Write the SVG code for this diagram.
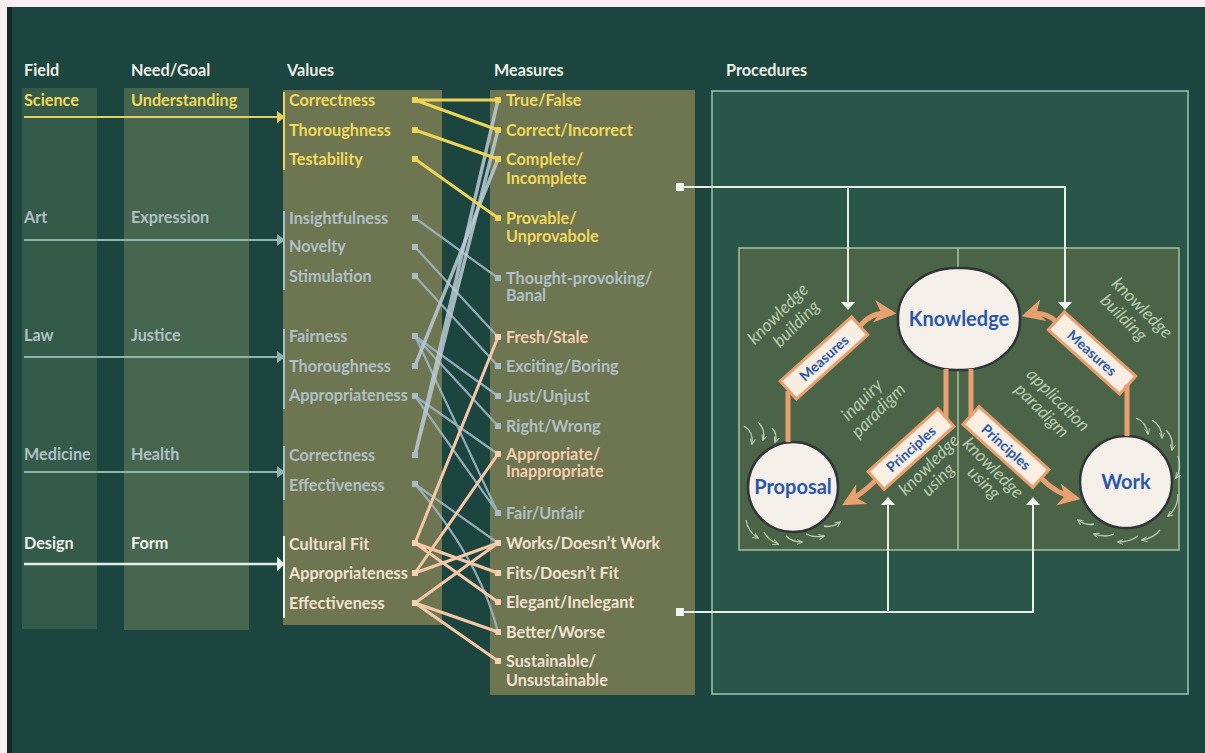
<svg xmlns="http://www.w3.org/2000/svg" width="1205" height="753" viewBox="0 0 1205 753">
<defs>
<style>
text{font-family:Lato,"Open Sans","Liberation Sans",sans-serif;font-weight:bold;font-size:16.2px}
.hd{fill:#eef0e6}
.y{fill:#f2da5c}
.g{fill:#b0c0c6}
.p{fill:#f6cdae}
.c{fill:#f3e2d0}
.w{fill:#eef0ea}
.it{font-style:italic;font-weight:normal;font-size:17.5px;fill:#b8ccb0;text-anchor:middle}
.bl{fill:#2a58a8;font-size:20px;text-anchor:middle}
.bx{fill:#f8eee2;stroke:#e8a070;stroke-width:3}
.bt{fill:#2a58a8;font-size:14px;text-anchor:middle}
.ly{stroke:#eed456;stroke-width:3;fill:none;stroke-linecap:round}
.lg{stroke:#9db6c2;stroke-width:2.2;fill:none;opacity:.9}
.lm{stroke:#bccbd6;stroke-width:3.5;fill:none;opacity:.85}
.lp{stroke:#f4c8a6;stroke-width:3;fill:none}
.or{stroke:#e8a070;stroke-width:5;fill:none}
.wl{stroke:#e6f0e6;stroke-width:2;fill:none}
.sw{stroke:#b8d0b0;stroke-width:1.3;fill:none}
.circ{fill:#f4efe8;stroke:#2e3438;stroke-width:2.5}
</style>
<marker id="oa" viewBox="0 0 10 10" refX="8" refY="5" markerWidth="4.5" markerHeight="4.5" orient="auto"><path d="M0,0 L10,5 L0,10 L3,5 Z" fill="#e8a070"/></marker>
<marker id="sm" viewBox="0 0 10 10" refX="8" refY="5" markerWidth="5" markerHeight="5" orient="auto"><path d="M0,1 L9,5 L0,9" fill="none" stroke="#b8d0b0" stroke-width="1.5"/></marker>
</defs>

<rect x="0" y="0" width="1205" height="753" fill="#f6eef2"/>
<rect x="7" y="7" width="1198" height="746" fill="#1c4540"/>
<rect x="7" y="7" width="5" height="746" fill="#0f2a26"/>

<!-- columns -->
<rect x="22" y="88" width="75" height="541" fill="#345a49"/>
<rect x="124" y="88" width="125" height="542" fill="#46664f"/>
<rect x="283" y="90" width="159" height="535" fill="#6d7551"/>
<rect x="490" y="90" width="205" height="605" fill="#6d7551"/>
<rect x="712" y="91" width="476" height="603" fill="#2a5649" stroke="#9cc4b8" stroke-width="1.5"/>
<rect x="739" y="248" width="440" height="302" fill="#4b6346" stroke="#a6c0a0" stroke-width="1.5"/>
<line x1="958" y1="248" x2="958" y2="550" stroke="#a6c0a0" stroke-width="1.5"/>

<!-- headers -->
<g id="headers">
<text class="hd" x="24" y="76">Field</text>
<text class="hd" x="131" y="76">Need/Goal</text>
<text class="hd" x="287" y="76">Values</text>
<text class="hd" x="494" y="76">Measures</text>
<text class="hd" x="726" y="76">Procedures</text>
</g>

<!-- fields -->
<g id="field-science"><text class="y" x="24" y="106">Science</text></g>
<g id="field-art"><text class="g" x="24" y="223">Art</text></g>
<g id="field-law"><text class="g" x="24" y="341">Law</text></g>
<g id="field-medicine"><text class="g" x="24" y="460">Medicine</text></g>
<g id="field-design"><text class="w" x="24" y="549">Design</text></g>

<g id="goal-understanding"><text class="y" x="131" y="106">Understanding</text></g>
<g id="goal-expression"><text class="g" x="131" y="223">Expression</text></g>
<g id="goal-justice"><text class="g" x="131" y="341">Justice</text></g>
<g id="goal-health"><text class="g" x="131" y="460">Health</text></g>
<g id="goal-form"><text class="w" x="131" y="549">Form</text></g>

<!-- values -->
<g id="values-science">
<line x1="284" y1="92" x2="284" y2="170" stroke="#eed456" stroke-width="2"/>
<text class="y" x="289" y="106">Correctness</text>
<text class="y" x="289" y="136">Thoroughness</text>
<text class="y" x="289" y="165">Testability</text>
</g>
<g id="values-art">
<line x1="284" y1="211" x2="284" y2="290" stroke="#a8c0c4" stroke-width="2"/>
<text class="g" x="289" y="224">Insightfulness</text>
<text class="g" x="289" y="252">Novelty</text>
<text class="g" x="289" y="282">Stimulation</text>
</g>
<g id="values-law">
<line x1="284" y1="329" x2="284" y2="409" stroke="#a8c0c4" stroke-width="2"/>
<text class="g" x="289" y="342">Fairness</text>
<text class="g" x="289" y="372">Thoroughness</text>
<text class="g" x="289" y="401">Appropriateness</text>
</g>
<g id="values-medicine">
<line x1="284" y1="446" x2="284" y2="500" stroke="#a8c0c4" stroke-width="2"/>
<text class="g" x="289" y="461">Correctness</text>
<text class="g" x="289" y="491">Effectiveness</text>
</g>
<g id="values-design">
<line x1="284" y1="536" x2="284" y2="618" stroke="#eef0ea" stroke-width="2"/>
<text class="c" x="289" y="550">Cultural Fit</text>
<text class="c" x="289" y="579">Appropriateness</text>
<text class="c" x="289" y="609">Effectiveness</text>
</g>

<!-- measures -->
<g id="measures">
<text class="y" x="506" y="106">True/False</text>
<text class="y" x="506" y="136">Correct/Incorrect</text>
<text class="y" x="506" y="165">Complete/</text>
<text class="y" x="506" y="184">Incomplete</text>
<text class="y" x="506" y="224">Provable/</text>
<text class="y" x="506" y="242">Unprovabole</text>
<text class="g" x="506" y="284">Thought-provoking/</text>
<text class="g" x="506" y="301">Banal</text>
<text class="p" x="506" y="343">Fresh/Stale</text>
<text class="g" x="506" y="372">Exciting/Boring</text>
<text class="g" x="506" y="402">Just/Unjust</text>
<text class="g" x="506" y="432">Right/Wrong</text>
<text class="p" x="506" y="460">Appropriate/</text>
<text class="p" x="506" y="477">Inappropriate</text>
<text class="g" x="506" y="519">Fair/Unfair</text>
<text class="c" x="506" y="549">Works/Doesn’t Work</text>
<text class="c" x="506" y="579">Fits/Doesn’t Fit</text>
<text class="c" x="506" y="608">Elegant/Inelegant</text>
<text class="c" x="506" y="638">Better/Worse</text>
<text class="c" x="506" y="667">Sustainable/</text>
<text class="c" x="506" y="686">Unsustainable</text>
</g>

<!-- procedure nodes -->
<g id="node-knowledge">
<rect class="circ" x="898" y="268" width="122" height="102" rx="58" ry="49"/>
<text class="bl" x="959" y="326">Knowledge</text>
</g>
<g id="node-proposal">
<circle class="circ" cx="793" cy="487" r="45"/>
<text class="bl" x="793" y="494">Proposal</text>
</g>
<g id="node-work">
<circle class="circ" cx="1126" cy="482" r="46"/>
<text class="bl" x="1126" y="489">Work</text>
</g>
<g id="box-measures-left" transform="translate(824,358) rotate(-42)">
<rect class="bx" x="-48" y="-12" width="96" height="24"/>
<text class="bt" x="0" y="5">Measures</text>
</g>
<g id="box-principles-left" transform="translate(911,449) rotate(-42)">
<rect class="bx" x="-47" y="-12" width="94" height="24"/>
<text class="bt" x="0" y="5">Principles</text>
</g>
<g id="box-principles-right" transform="translate(1006,447) rotate(42)">
<rect class="bx" x="-47" y="-12" width="94" height="24"/>
<text class="bt" x="0" y="5">Principles</text>
</g>
<g id="box-measures-right" transform="translate(1092,353) rotate(42)">
<rect class="bx" x="-48" y="-12" width="96" height="24"/>
<text class="bt" x="0" y="5">Measures</text>
</g>

<!-- italic labels -->
<g id="labels">
<text class="it" transform="translate(782,318) rotate(-45)"><tspan x="0" y="0">knowledge</tspan><tspan x="6" y="20">building</tspan></text>
<text class="it" transform="translate(866,404) rotate(-45)"><tspan x="0" y="0">inquiry</tspan><tspan x="4" y="19">paradigm</tspan></text>
<text class="it" transform="translate(933,469) rotate(-45)"><tspan x="0" y="0">knowledge</tspan><tspan x="-4" y="17">using</tspan></text>
<text class="it" transform="translate(1138,312) rotate(45)"><tspan x="0" y="0">knowledge</tspan><tspan x="-6" y="20">building</tspan></text>
<text class="it" transform="translate(1054,404) rotate(45)"><tspan x="0" y="0">application</tspan><tspan x="-4" y="19">paradigm</tspan></text>
<text class="it" transform="translate(989,472) rotate(45)"><tspan x="0" y="0">knowledge</tspan><tspan x="4" y="17">using</tspan></text>
</g>

<!-- connectors -->
<g id="connectors">
<!-- field arrows -->
<line x1="24" y1="117" x2="280" y2="117" stroke="#e8d060" stroke-width="2"/>
<polygon points="277,111 285,117 277,123" fill="#e8d060"/>
<line x1="24" y1="240" x2="280" y2="240" stroke="#8fb4ae" stroke-width="2"/>
<polygon points="277,234 285,240 277,246" fill="#8fb4ae"/>
<line x1="24" y1="357" x2="280" y2="357" stroke="#8fb4ae" stroke-width="2"/>
<polygon points="277,351 285,357 277,363" fill="#8fb4ae"/>
<line x1="24" y1="472" x2="280" y2="472" stroke="#8fb4ae" stroke-width="2"/>
<polygon points="277,466 285,472 277,478" fill="#8fb4ae"/>
<line x1="24" y1="564" x2="280" y2="564" stroke="#e4eee8" stroke-width="2.5"/>
<polygon points="277,557 285,564 277,571" fill="#e4eee8"/>

<!-- art / law / medicine -->
<path class="lg" d="M415,218 L498,278 M415,247 L498,337 M415,276 L498,366"/>
<path class="lg" d="M415,336 L498,396 M415,336 L498,426 M415,336 L498,513 M415,396 L498,454 M415,396 L498,513"/>
<path class="lm" d="M415,366 L498,159"/>
<path class="lm" d="M415,455 L498,100 M415,455 L498,130"/>
<path class="lg" d="M415,484 L498,543 M415,484 Q480,560 498,632"/>
<!-- science -->
<path class="ly" d="M415,100 L498,100 M415,100 L498,130 M415,130 L498,159 M415,159 L498,218"/>
<!-- design -->
<path class="lp" d="M415,543 L498,337 M415,543 L498,573 M415,543 L498,602 M415,573 L498,454 M415,573 L498,543 M415,603 L498,543 M415,603 L498,632 M415,603 L498,661"/>

<!-- dots -->
<g fill="#eed456">
<rect x="412" y="97" width="6" height="6"/><rect x="412" y="127" width="6" height="6"/><rect x="412" y="156" width="6" height="6"/>
<rect x="495" y="97" width="6" height="6"/><rect x="495" y="127" width="6" height="6"/><rect x="495" y="156" width="6" height="6"/><rect x="495" y="215" width="6" height="6"/>
</g>
<g fill="#a8bcc6">
<rect x="412" y="215" width="6" height="6"/><rect x="412" y="244" width="6" height="6"/><rect x="412" y="273" width="6" height="6"/>
<rect x="412" y="333" width="6" height="6"/><rect x="412" y="363" width="6" height="6"/><rect x="412" y="393" width="6" height="6"/>
<rect x="412" y="452" width="6" height="6"/><rect x="412" y="481" width="6" height="6"/>
<rect x="495" y="275" width="6" height="6"/><rect x="495" y="363" width="6" height="6"/><rect x="495" y="393" width="6" height="6"/><rect x="495" y="423" width="6" height="6"/><rect x="495" y="510" width="6" height="6"/>
</g>
<g fill="#f6d0b2">
<rect x="412" y="540" width="6" height="6"/><rect x="412" y="570" width="6" height="6"/><rect x="412" y="600" width="6" height="6"/>
<rect x="495" y="334" width="6" height="6"/><rect x="495" y="451" width="6" height="6"/><rect x="495" y="540" width="6" height="6"/><rect x="495" y="570" width="6" height="6"/><rect x="495" y="599" width="6" height="6"/><rect x="495" y="629" width="6" height="6"/><rect x="495" y="658" width="6" height="6"/>
</g>

<!-- measures to procedures -->
<rect x="676" y="183" width="8" height="8" fill="#eef4ee"/>
<path class="wl" d="M684,187 H1065 V302 M848,187 V302"/>
<polygon points="841,302 855,302 848,310" fill="#eef4ee"/>
<polygon points="1058,302 1072,302 1065,310" fill="#eef4ee"/>
<rect x="676" y="608" width="8" height="8" fill="#eef4ee"/>
<path class="wl" d="M684,612 H1033 V505 M888,612 V505"/>
<polygon points="881,505 895,505 888,497" fill="#eef4ee"/>
<polygon points="1026,505 1040,505 1033,497" fill="#eef4ee"/>

<!-- orange flows -->
<path class="or" d="M788,442 V391"/>
<path class="or" marker-end="url(#oa)" d="M860,326 Q872,311 892,313"/>
<path class="or" d="M946,369 V418"/>
<path class="or" marker-end="url(#oa)" d="M876,480 Q862,494 846,503"/>
<path class="or" d="M971,369 V416"/>
<path class="or" marker-end="url(#oa)" d="M1041,478 Q1056,494 1076,498"/>
<path class="or" d="M1127,436 V385"/>
<path class="or" marker-end="url(#oa)" d="M1057,322 Q1044,310 1026,315"/>

<!-- swirls -->
<g class="sw">
<path marker-end="url(#sm)" d="M744,426 q10,6 8,18"/>
<path marker-end="url(#sm)" d="M758,422 q8,8 5,18"/>
<path marker-end="url(#sm)" d="M772,428 q6,6 3,14"/>
<path marker-end="url(#sm)" d="M746,520 q2,12 12,18"/>
<path marker-end="url(#sm)" d="M764,532 q4,8 14,12"/>
<path marker-end="url(#sm)" d="M786,536 q6,6 16,6"/>
<path marker-end="url(#sm)" d="M806,534 q8,4 18,2"/>
<path marker-end="url(#sm)" d="M824,526 q8,2 16,-4"/>
<path marker-end="url(#sm)" d="M1136,418 q10,4 12,16"/>
<path marker-end="url(#sm)" d="M1152,420 q10,6 10,18"/>
<path marker-end="url(#sm)" d="M1166,430 q8,8 6,20"/>
<path marker-end="url(#sm)" d="M1178,456 q4,12 -2,22"/>
<path marker-end="url(#sm)" d="M1178,494 q0,14 -10,22"/>
<path marker-end="url(#sm)" d="M1160,530 q-6,8 -18,10"/>
<path marker-end="url(#sm)" d="M1138,536 q-8,6 -20,6"/>
<path marker-end="url(#sm)" d="M1114,534 q-8,4 -20,0"/>
<path marker-end="url(#sm)" d="M1094,524 q-8,2 -16,-4"/>
</g>
</g>
</svg>
